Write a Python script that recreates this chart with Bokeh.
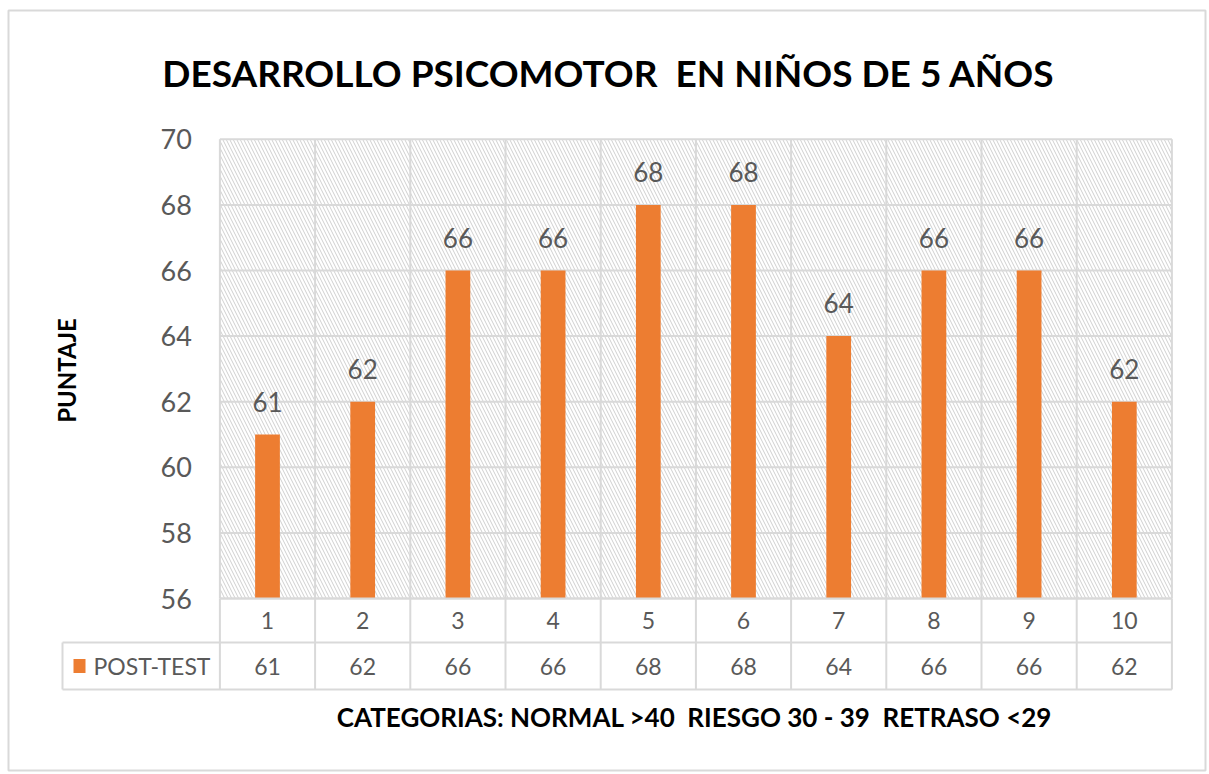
from bokeh.plotting import figure
from bokeh.models import Range1d, LinearAxis, FixedTicker, ColumnDataSource
from bokeh.core.properties import value
from bokeh.embed import file_html
from bokeh.resources import INLINE

# ---------------- data ----------------
categories = [1, 2, 3, 4, 5, 6, 7, 8, 9, 10]
category_labels = ["1", "2", "3", "4", "5", "6", "7", "8", "9", "10"]
post_test = [61, 62, 66, 66, 68, 68, 64, 66, 66, 62]
series_name = "POST-TEST"
y_ticks = [56, 58, 60, 62, 64, 66, 68, 70]
NB = "\u00a0"
title_text = "DESARROLLO PSICOMOTOR" + NB + " EN NIÑOS DE 5 AÑOS"
y_label = "PUNTAJE"
x_label = ("CATEGORIAS: NORMAL >40" + NB + " RIESGO 30 - 39" + NB +
           " RETRASO <29")

# ---------------- layout (page pixels) ----------------
W, H = 1207, 772
FL, FT, FR, FB = 8, 10, 1205, 770        # frame (outer chart border)
X0_PX, DX_PX = 171.8, 95.2               # page px of x=0, px per category
Y_BASE, BASE_PX, DY_PX = 56, 598.0, 32.8  # y value at plot bottom, its px, px per unit
Y_TOP = 70

FONT = "Lato"
GRID = "#D9D9D9"
TXT = "#595959"
ORANGE = "#ED7D31"


def xd(px):
    return (px - X0_PX) / DX_PX


def yd(py):
    return Y_BASE + (BASE_PX - py) / DY_PX


p = figure(width=W, height=H, output_backend="svg", toolbar_location=None,
           x_range=Range1d(xd(FL), xd(FR)), y_range=Range1d(yd(FB), yd(FT)),
           min_border_left=FL, min_border_right=W - FR,
           min_border_top=FT, min_border_bottom=H - FB,
           x_axis_type=None, y_axis_type=None)
p.xgrid.visible = False
p.ygrid.visible = False
p.outline_line_color = GRID
p.outline_line_width = 2
p.background_fill_color = "white"
p.border_fill_color = "white"

left_edge = categories[0] - 0.5
right_edge = categories[-1] + 0.5

# hatched plot area
p.quad(left=[left_edge], right=[right_edge], bottom=[Y_BASE], top=[Y_TOP],
       fill_color="white", line_color=None,
       hatch_pattern="\\", hatch_color="#CFCFCF", hatch_scale=7, hatch_weight=1)

# grid lines
gy = list(y_ticks)
p.segment(x0=[left_edge] * len(gy), x1=[right_edge] * len(gy), y0=gy, y1=gy,
          line_color=GRID, line_width=2)
bx = [c - 0.5 for c in categories] + [right_edge]
p.segment(x0=bx, x1=bx, y0=[Y_BASE] * len(bx), y1=[Y_TOP] * len(bx),
          line_color=GRID, line_width=2)

# bars
src = ColumnDataSource(dict(x=categories, top=post_test,
                            lab=[str(v) for v in post_test],
                            cat=category_labels))
p.vbar(x="x", top="top", bottom=Y_BASE, width=0.26, source=src,
       fill_color=ORANGE, line_color=None)

# data labels
p.text(x="x", y="top", text="lab", source=src, text_align="center",
       text_baseline="alphabetic", y_offset=-33,
       text_font=value(FONT), text_font_size="26px", text_color=TXT)

# ---------------- data table ----------------
row1_bot = yd(642)
row2_bot = yd(689)
leg_left = xd(62)
row1_mid = (Y_BASE + row1_bot) / 2
row2_mid = (row1_bot + row2_bot) / 2

# vertical table lines
p.segment(x0=bx, x1=bx, y0=[row2_bot] * len(bx), y1=[Y_BASE] * len(bx),
          line_color=GRID, line_width=2)
p.segment(x0=[leg_left], x1=[leg_left], y0=[row2_bot], y1=[row1_bot],
          line_color=GRID, line_width=2)
# horizontal table lines
p.segment(x0=[leg_left, leg_left, left_edge], x1=[right_edge] * 3,
          y0=[row1_bot, row2_bot, Y_BASE], y1=[row1_bot, row2_bot, Y_BASE],
          line_color=GRID, line_width=2)

p.text(x="x", y=row1_mid, text="cat", source=src, text_align="center",
       text_baseline="middle", text_font=value(FONT), text_font_size="23px",
       text_color=TXT)
p.text(x="x", y=row2_mid, text="lab", source=src, text_align="center",
       text_baseline="middle", text_font=value(FONT), text_font_size="23px",
       text_color=TXT)

# legend key in table
p.rect(x=[xd(79)], y=[row2_mid], width=12, height=14, width_units="screen",
       height_units="screen", fill_color=ORANGE, line_color=None)
p.text(x=[xd(93)], y=[row2_mid], text=[series_name], text_align="left",
       text_baseline="middle", text_font=value(FONT), text_font_size="23px",
       text_color=TXT)

# ---------------- y axis ----------------
yaxis = LinearAxis(ticker=FixedTicker(ticks=y_ticks), fixed_location=left_edge,
                   bounds=(Y_BASE, Y_TOP))
yaxis.axis_line_color = None
yaxis.major_tick_line_color = None
yaxis.minor_tick_line_color = None
yaxis.major_label_standoff = 22
yaxis.major_label_text_font = FONT
yaxis.major_label_text_font_size = "27px"
yaxis.major_label_text_color = TXT
p.add_layout(yaxis, "left")

# ---------------- titles ----------------
p.text(x=[xd(608)], y=[yd(72)], text=[title_text], text_align="center",
       text_baseline="middle", text_font=value(FONT), text_font_style="bold",
       text_font_size="37px", text_color="black")
p.text(x=[xd(66)], y=[yd(370)], text=[y_label], angle=1.5708,
       text_align="center", text_baseline="middle", text_font=value(FONT),
       text_font_style="bold", text_font_size="24px", text_color="black")
p.text(x=[xd(694)], y=[yd(716)], text=[x_label], text_align="center",
       text_baseline="middle", text_font=value(FONT), text_font_style="bold",
       text_font_size="26px", text_color="black")

open("out.html", "w").write(file_html(p, INLINE))
